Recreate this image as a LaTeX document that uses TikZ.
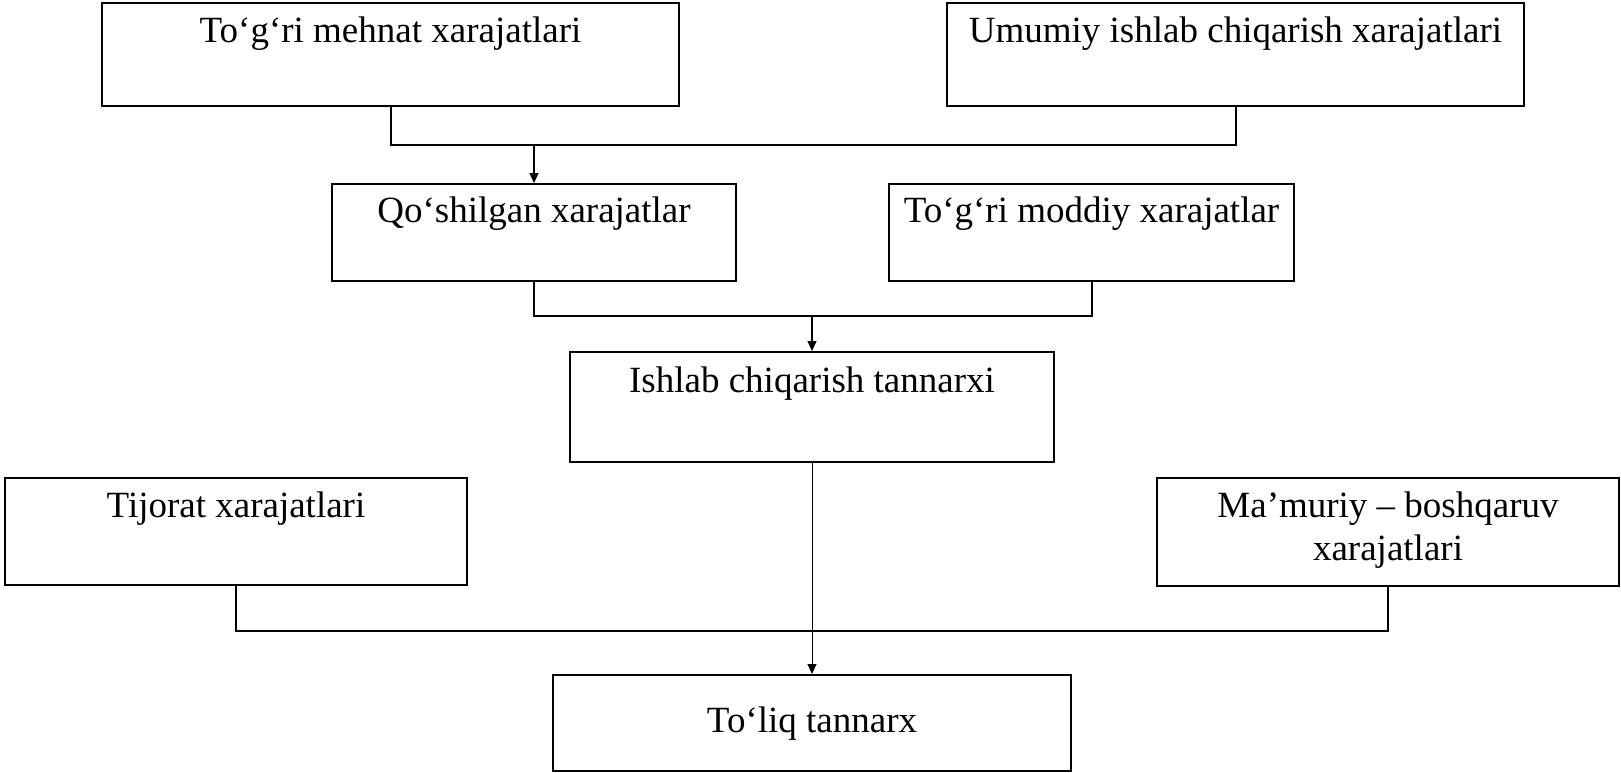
\documentclass[tikz,border=0pt]{standalone}
\usepackage{fontspec}
\setmainfont{Liberation Serif}
\usetikzlibrary{arrows.meta}
\begin{document}
\begin{tikzpicture}[x=1pt,y=-1pt,
  box/.style={draw, line width=2pt, rectangle, inner sep=0pt},
  txt/.style={anchor=base, inner sep=0pt, font=\fontsize{37}{43}\selectfont, align=center},
  link/.style={line width=2pt},
  feed/.style={line width=1.3pt, -{Triangle[length=10pt,width=9pt]}}]
\useasboundingbox (0,0) rectangle (1621,773);

% cost boxes
\node[box, minimum width=577pt, minimum height=103pt] (b1) at (390.5,54.5) {};
\node[box, minimum width=577pt, minimum height=103pt] (b2) at (1235.5,54.5) {};
\node[box, minimum width=404pt, minimum height=97pt] (b3) at (534,232.5) {};
\node[box, minimum width=405pt, minimum height=97pt] (b4) at (1091.5,232.5) {};
\node[box, minimum width=484pt, minimum height=110pt] (b5) at (812,407) {};
\node[box, minimum width=462pt, minimum height=107pt] (b6) at (236,531.5) {};
\node[box, minimum width=462pt, minimum height=108pt] (b7) at (1388,532) {};
\node[box, minimum width=518pt, minimum height=96pt] (b8) at (812,723) {};

% labels (a two-line label sits on the baseline of its last line)
\node[txt] (t1) at (390.5,43) {To‘g‘ri mehnat xarajatlari};
\node[txt] (t2) at (1235.5,43) {Umumiy ishlab chiqarish xarajatlari};
\node[txt] (t3) at (534,222) {Qo‘shilgan xarajatlar};
\node[txt] (t4) at (1091.5,222) {To‘g‘ri moddiy xarajatlar};
\node[txt] (t5) at (812,392) {Ishlab chiqarish tannarxi};
\node[txt] (t6) at (236,517) {Tijorat xarajatlari};
\node[txt] (t7) at (1388,560) {Ma’muriy – boshqaruv\\xarajatlari};
\node[txt] (t8) at (812,732) {To‘liq tannarx};

% junction points
\coordinate (j1) at (534,145);
\coordinate (j2) at (812,316);
\coordinate (j3) at (812,631);

% connectors
\draw[link] (b1.south) |- (j1) -| (b2.south);
\draw[feed] (j1) -- (b3.north);
\draw[link] (b3.south) |- (j2) -| (b4.south);
\draw[feed] (j2) -- (b5.north);
\draw[link] (b6.south) |- (j3) -| (b7.south);
\draw[feed, line width=1pt] (b5.south) -- (b8.north);
\end{tikzpicture}
\end{document}
